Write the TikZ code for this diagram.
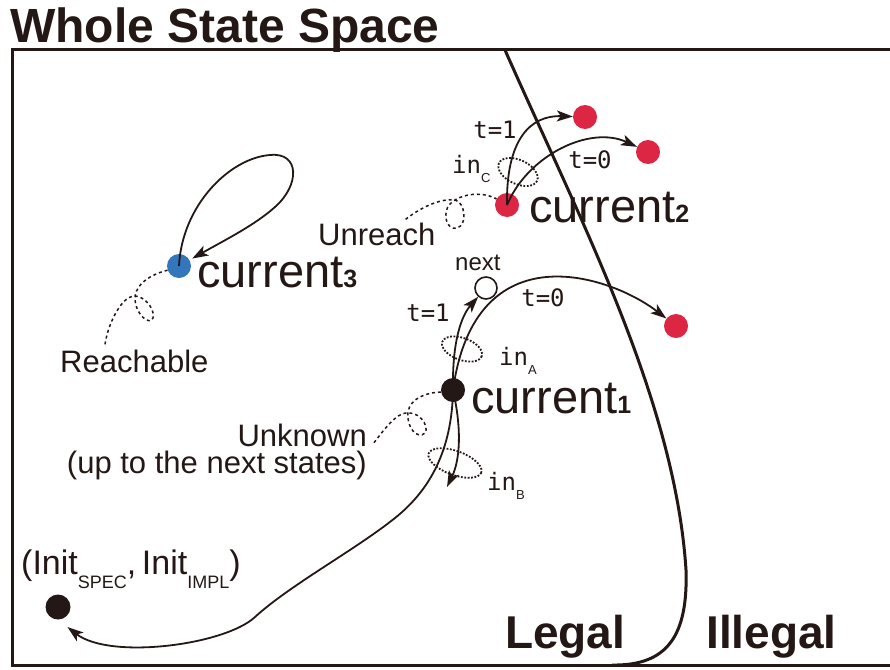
\documentclass[tikz,border=0pt]{standalone}
\usepackage{fontspec}
\setmainfont{Liberation Sans}
\newfontfamily\monofam{DejaVu Sans Mono}
\usetikzlibrary{arrows.meta}

\definecolor{ink}{RGB}{35,24,21}
\definecolor{stred}{RGB}{221,38,68}
\definecolor{stblue}{RGB}{52,118,188}

\newcommand{\subdigit}[1]{{\fontsize{25}{25}\selectfont\bfseries #1}}
\newcommand{\insub}[1]{in\raisebox{-9pt}{\rmfamily\fontsize{13}{13}\selectfont #1}}
\newcommand{\initsub}[1]{\raisebox{-14pt}{\fontsize{18}{18}\selectfont #1}}

\begin{document}
\begin{tikzpicture}[x=1pt,y=-1pt,color=ink,
  every node/.style={inner sep=0pt},
  statedot/.style={circle,minimum size=24pt,inner sep=0pt},
  reddot/.style={statedot,fill=stred},
  blackdot/.style={statedot,fill=ink},
  arr/.style={line width=1.8pt,-{Stealth[length=16pt,width=11pt,inset=4pt]}},
  ring/.style={line width=1.8pt,dash pattern=on 1.8pt off 1.6pt},
  curl/.style={line width=1.5pt,dash pattern=on 3pt off 3pt},
  big/.style={font=\fontsize{47}{47}\selectfont},
  note/.style={font=\fontsize{31}{28}\selectfont},
  mono/.style={font=\monofam\fontsize{24}{24}\selectfont},
  heading/.style={font=\fontsize{46}{46}\selectfont\bfseries}]
\useasboundingbox (0,0) rectangle (890,669);
\draw[line width=3pt] (890,50) -| (12,665) -- (890,665);
\draw[line width=3pt] (505,50) .. controls (580,220) and (675,400) .. (686,570) .. controls (688,635) and (668,666) .. (612,665);
\node[heading,font=\fontsize{48}{48}\selectfont\bfseries,anchor=base west] (title) at (10,42) {Whole State Space};
\node[heading,anchor=base west] (legal) at (505,648) {Legal};
\node[heading,anchor=base west] (illegal) at (706,648) {Illegal};

\draw[ring,rotate around={-25:(518,172)}] (518,172) ellipse [x radius=21,y radius=12];
\draw[ring,rotate around={-20:(462,349)}] (462,349) ellipse [x radius=21,y radius=11];
\draw[ring,rotate around={-20:(455,463)}] (455,463) ellipse [x radius=28,y radius=12];

\node[reddot] (c2) at (507,205) {};
\node[reddot] (r1) at (585,117) {};
\node[reddot] (r2) at (648,152) {};
\node[reddot] (r3) at (676,326) {};
\node[statedot,fill=white,draw=ink,line width=1.6pt,minimum size=22pt] (nx) at (486,288) {};
\node[blackdot] (c1) at (453,390) {};
\node[statedot,fill=stblue] (c3) at (179,266) {};
\node[blackdot,minimum size=25pt] (init) at (58,607) {};
\coordinate (bdown) at (447,487);

\node[big,anchor=base west] (c2lbl) at (529,222) {current\subdigit{2}};
\node[big,anchor=base west] (c1lbl) at (471,413) {current\subdigit{1}};
\node[big,anchor=base west] (c3lbl) at (197,287) {current\subdigit{3}};
\node[anchor=base west,font=\fontsize{24}{24}\selectfont] (nxlbl) at (455,270) {next};
\node[note,anchor=base west] (unr) at (318,245) {Unreach};
\node[note,anchor=base west] (reach) at (60,372) {Reachable};
\node[note,anchor=north east,align=right] (unk) at (367,424) {Unknown\\[-1pt](up to the next states)};
\node[anchor=base west,font=\fontsize{34}{34}\selectfont] (initlbl) at (21,574) {(Init\initsub{SPEC},\,Init\initsub{IMPL})};

\node[mono] (t1top) at (495,130) {t=1};
\node[mono] (t0top) at (590,160) {t=0};
\node[mono] (t1mid) at (428,313) {t=1};
\node[mono] (t0mid) at (543,298) {t=0};
\node[mono,anchor=base west] (inC) at (452,173) {\insub{C}};
\node[mono,anchor=base west] (inA) at (499,365) {\insub{A}};
\node[mono,anchor=base west] (inB) at (487,490) {\insub{B}};

\draw[arr] (c2.center) .. controls (506,140) and (530,115) .. (r1);
\draw[arr] (c2.center) .. controls (528,155) and (590,125) .. (r2);
\draw[arr] (c1.center) .. controls (452,340) and (462,315) .. (nx);
\draw[arr] (c1.center) .. controls (475,230) and (610,275) .. (r3);
\draw[arr] (c1.center) .. controls (462,430) and (460,460) .. (bdown);
\draw[arr,shorten >=12pt] (c1.center) .. controls (452,450) and (430,490) .. (395,518) .. controls (355,550) and (290,585) .. (255,617) .. controls (225,645) and (110,660) .. (init.south);
\draw[arr,shorten >=3pt] (c3.center) .. controls (182,205) and (230,158) .. (270,155) .. controls (300,152) and (300,185) .. (275,207) .. controls (255,225) and (225,240) .. (c3);

\draw[curl] ([xshift=-30pt,yshift=3pt]unr.north east) .. controls (420,208) and (440,198) .. (455,200) .. controls (465,202) and (468,225) .. (457,228) .. controls (446,231) and (442,212) .. (450,204) .. controls (458,195) and (480,190) .. (c2.150);
\draw[curl] (c3.200) .. controls (145,276) and (134,288) .. (135,300) .. controls (136,315) and (150,326) .. (153,318) .. controls (156,308) and (140,290) .. (128,298) .. controls (118,305) and (108,325) .. ([xshift=45pt,yshift=5pt]reach.north west);
\draw[curl] (c1.190) .. controls (428,392) and (410,398) .. (408,412) .. controls (406,428) and (418,440) .. (425,433) .. controls (430,426) and (418,408) .. (402,414) .. controls (392,418) and (380,435) .. ([xshift=6pt,yshift=-20pt]unk.north east);
\end{tikzpicture}
\end{document}
